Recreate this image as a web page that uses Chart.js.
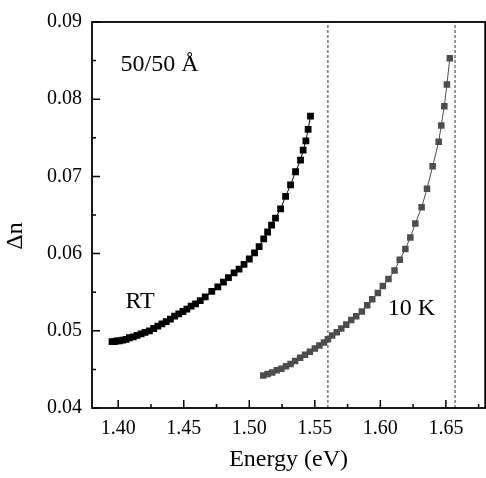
<!DOCTYPE html>
<html>
<head>
<meta charset="utf-8">
<script src="https://cdn.jsdelivr.net/npm/chart.js@4.4.1/dist/chart.umd.min.js"></script>
<style>
  html, body { margin: 0; padding: 0; background: #fff; overflow: hidden; }
  canvas { display: block; }
</style>
</head>
<body>
<canvas id="dnChart" width="490" height="478"></canvas>
<script>
// room temperature curve
const rtEnergy = [1.3953, 1.3970, 1.3990, 1.4010, 1.4035, 1.4060, 1.4085, 1.4115, 1.4144, 1.4175,
    1.4205, 1.4238, 1.4271, 1.4302, 1.4334, 1.4366, 1.4398, 1.4430, 1.4462, 1.4494,
    1.4524, 1.4556, 1.4590, 1.4626, 1.4664, 1.4714, 1.4760, 1.4803, 1.4841, 1.4884,
    1.4922, 1.4960, 1.5000, 1.5040, 1.5075, 1.5110, 1.5140, 1.5170, 1.5200, 1.5239,
    1.5277, 1.5315, 1.5353, 1.5391, 1.5411, 1.5432, 1.5449, 1.5467];
const rtDn = [0.0486, 0.0486, 0.0487, 0.0487, 0.0488, 0.0489, 0.0491, 0.0492, 0.0494, 0.0496,
    0.0498, 0.0500, 0.0503, 0.0506, 0.0509, 0.0512, 0.0515, 0.0519, 0.0522, 0.0525,
    0.0528, 0.0532, 0.0535, 0.0539, 0.0544, 0.0551, 0.0557, 0.0563, 0.0569, 0.0575,
    0.0580, 0.0586, 0.0593, 0.0601, 0.0609, 0.0619, 0.0628, 0.0637, 0.0646, 0.0658,
    0.0674, 0.0689, 0.0706, 0.0721, 0.0734, 0.0746, 0.0761, 0.0778];

// 10 K curve
const lowEnergy = [1.5107, 1.5140, 1.5175, 1.5210, 1.5245, 1.5280, 1.5315, 1.5350, 1.5388, 1.5425,
    1.5462, 1.5500, 1.5535, 1.5570, 1.5600, 1.5632, 1.5667, 1.5702, 1.5740, 1.5778,
    1.5816, 1.5859, 1.5900, 1.5938, 1.5981, 1.6019, 1.6062, 1.6108, 1.6148, 1.6191,
    1.6229, 1.6267, 1.6315, 1.6356, 1.6399, 1.6445, 1.6465, 1.6488, 1.6508, 1.6530];
const lowDn = [0.0442, 0.0444, 0.0446, 0.0449, 0.0451, 0.0454, 0.0457, 0.0461, 0.0465, 0.0469,
    0.0473, 0.0477, 0.0481, 0.0485, 0.0489, 0.0494, 0.0498, 0.0503, 0.0508, 0.0514,
    0.0519, 0.0525, 0.0533, 0.0541, 0.0549, 0.0558, 0.0567, 0.0578, 0.0592, 0.0606,
    0.0621, 0.0639, 0.0660, 0.0684, 0.0713, 0.0745, 0.0766, 0.0791, 0.0819, 0.0853];

// vertical dashed markers (eV)
const markerEnergy = [1.56, 1.657];

const xTicks = [1.40, 1.45, 1.50, 1.55, 1.60, 1.65];
const xMinorTicks = [1.425, 1.475, 1.525, 1.575, 1.625, 1.675];
const yTicks = [0.04, 0.05, 0.06, 0.07, 0.08, 0.09];
const yMinorTicks = [0.045, 0.055, 0.065, 0.075, 0.085];

const noteText = ['50/50 Å', 'RT', '10 K'];
const noteX = [1.4018, 1.4055, 1.6057];
const noteY = [0.0837, 0.0530, 0.0520];

const serif = "'Liberation Serif', 'DejaVu Serif', serif";

function toPoints(xs, ys) {
    return xs.map((x, i) => ({ x: x, y: ys[i] }));
}

const datasets = [
    {
        label: 'RT',
        data: toPoints(rtEnergy, rtDn),
        borderColor: '#000',
        backgroundColor: '#000',
        borderWidth: 1,
        pointStyle: 'rect',
        pointRadius: 4.8,
        pointBorderWidth: 0,
        showLine: true
    },
    {
        label: '10 K',
        data: toPoints(lowEnergy, lowDn),
        borderColor: '#4d4d4d',
        backgroundColor: '#4d4d4d',
        borderWidth: 1,
        pointStyle: 'rect',
        pointRadius: 4.6,
        pointBorderWidth: 0,
        showLine: true
    }
];

markerEnergy.forEach(e => {
    datasets.push({
        data: [{ x: e, y: 0.04 }, { x: e, y: 0.09 }],
        borderColor: '#333',
        borderWidth: 1,
        borderDash: [3, 2],
        pointRadius: 0,
        showLine: true
    });
});

const framePlugin = {
    id: 'frame',
    afterDraw(chart) {
        const ctx = chart.ctx;
        const a = chart.chartArea;
        const xs = chart.scales.x, ys = chart.scales.y;
        ctx.save();
        ctx.strokeStyle = '#000';
        ctx.lineWidth = 1.8;
        ctx.strokeRect(a.left, a.top, a.right - a.left, a.bottom - a.top);

        // inward ticks
        ctx.lineWidth = 1.5;
        ctx.beginPath();
        xTicks.forEach(v => { const p = xs.getPixelForValue(v); ctx.moveTo(p, a.bottom); ctx.lineTo(p, a.bottom - 8); });
        xMinorTicks.forEach(v => { const p = xs.getPixelForValue(v); ctx.moveTo(p, a.bottom); ctx.lineTo(p, a.bottom - 4); });
        yTicks.forEach(v => { const p = ys.getPixelForValue(v); ctx.moveTo(a.left, p); ctx.lineTo(a.left + 8, p); });
        yMinorTicks.forEach(v => { const p = ys.getPixelForValue(v); ctx.moveTo(a.left, p); ctx.lineTo(a.left + 4, p); });
        ctx.stroke();

        // notes in the plot
        ctx.fillStyle = '#000';
        ctx.font = '24px ' + serif;
        ctx.textAlign = 'left';
        ctx.textBaseline = 'alphabetic';
        noteText.forEach((t, i) => {
            ctx.fillText(t, xs.getPixelForValue(noteX[i]), ys.getPixelForValue(noteY[i]));
        });

        // axis titles
        ctx.textAlign = 'center';
        ctx.fillText('Energy (eV)', (a.left + a.right) / 2, 466);
        ctx.translate(22, 236);
        ctx.rotate(-Math.PI / 2);
        ctx.fillText('Δn', 0, 0);
        ctx.restore();
    }
};

new Chart(document.getElementById('dnChart'), {
    type: 'scatter',
    data: { datasets: datasets },
    options: {
        responsive: false,
        animation: false,
        devicePixelRatio: 1,
        layout: { padding: { top: 13, right: 3, left: 0, bottom: 0 } },
        plugins: { legend: { display: false }, tooltip: { enabled: false } },
        scales: {
            x: {
                type: 'linear',
                min: 1.38,
                max: 1.68,
                afterBuildTicks: axis => { axis.ticks = xTicks.map(v => ({ value: v })); },
                afterFit: axis => { axis.height = 70; },
                grid: { display: false, drawTicks: false },
                border: { display: false },
                ticks: {
                    color: '#000',
                    padding: 9,
                    maxRotation: 0,
                    font: { family: serif, size: 20 },
                    callback: v => v.toFixed(2)
                }
            },
            y: {
                type: 'linear',
                min: 0.04,
                max: 0.09,
                afterBuildTicks: axis => { axis.ticks = yTicks.map(v => ({ value: v })); },
                afterFit: axis => { axis.width = 92; },
                grid: { display: false, drawTicks: false },
                border: { display: false },
                ticks: {
                    color: '#000',
                    padding: 10,
                    font: { family: serif, size: 20 },
                    callback: v => v.toFixed(2)
                }
            }
        }
    },
    plugins: [framePlugin]
});
</script>
</body>
</html>
